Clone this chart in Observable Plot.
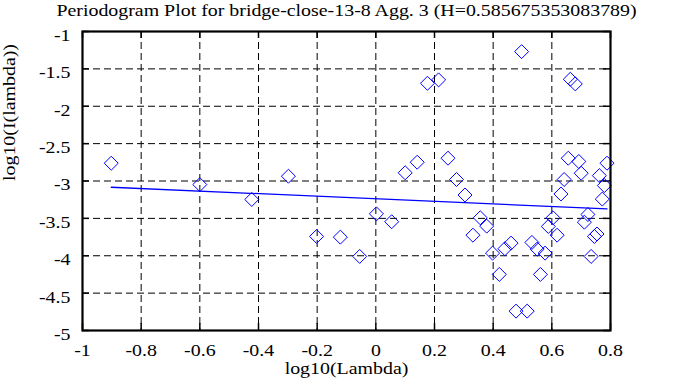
<!DOCTYPE html>
<html>
<head>
<meta charset="utf-8">
<script src="https://cdn.jsdelivr.net/npm/d3@7"></script>
<script src="https://cdn.jsdelivr.net/npm/@observablehq/plot@0.6"></script>
<style>
  html, body { margin: 0; padding: 0; background: #fff; }
  #chart svg text, #chart svg g { font-family: 'Liberation Serif', 'DejaVu Serif', serif !important; font-variant: normal !important; }
</style>
</head>
<body>
<div id="chart"></div>
<script>
const titleText = "Periodogram Plot for bridge-close-13-8 Agg. 3 (H=0.585675353083789)";
const xLabel = "log10(Lambda)";
const yLabel = "log10(I(lambda))";

const xTicks = [-1, -0.8, -0.6, -0.4, -0.2, 0, 0.2, 0.4, 0.6, 0.8];
const yTicks = [-5, -4.5, -4, -3.5, -3, -2.5, -2, -1.5, -1];

// log10(lambda) values
const logLambda = [
  -0.902, -0.600, -0.423, -0.298, -0.202, -0.121, -0.055, 0.002, 0.054, 0.100,
  0.141, 0.176, 0.214, 0.246, 0.275, 0.304, 0.331, 0.356, 0.378, 0.398,
  0.421, 0.440, 0.461, 0.478, 0.516, 0.497, 0.532, 0.550, 0.577, 0.561,
  0.604, 0.588, 0.618, 0.631, 0.642, 0.656, 0.663, 0.680, 0.692, 0.700,
  0.711, 0.723, 0.734, 0.745, 0.754, 0.762, 0.772, 0.779, 0.788
];
// log10(I(lambda)) values
const logI = [
  -2.762, -3.048, -3.247, -2.936, -3.742, -3.751, -4.009, -3.439, -3.545, -2.890,
  -2.749, -1.693, -1.647, -2.695, -2.980, -3.187, -3.725, -3.492, -3.604, -3.965,
  -4.250, -3.906, -3.831, -4.741, -4.741, -1.269, -3.822, -3.911, -3.965, -4.250,
  -3.492, -3.608, -3.725, -3.174, -2.980, -2.695, -1.639, -1.701, -2.739, -2.896,
  -3.551, -3.448, -4.009, -3.742, -3.709, -2.928, -3.242, -3.061, -2.762
];

// least-squares fit line: slope = 1 - 2H
const H = 0.585675353083789;
const fitSlope = 1 - 2 * H;
const fitIntercept = -3.238;

const points = logLambda.map((x, i) => ({x, y: logI[i]}));
const xMin = d3.min(logLambda), xMax = d3.max(logLambda);
const fitLine = [xMin, xMax].map(x => ({x, y: fitIntercept + fitSlope * x}));

const W = 688, Hgt = 387;
const mL = 82, mR = 78, mT = 31, mB = 57;
const plotW = W - mL - mR, plotH = Hgt - mT - mB;
const fmt = d => String(d);
const FONT = "'Liberation Serif', 'DejaVu Serif', serif";
const FS = 17;

const chart = Plot.plot({
  width: W,
  height: Hgt,
  marginLeft: mL,
  marginRight: mR,
  marginTop: mT,
  marginBottom: mB,
  style: {fontFamily: FONT, fontSize: FS + "px", background: "#fff", color: "#000"},
  x: {domain: [-1, 0.8]},
  y: {domain: [-5, -1]},
  marks: [
    // dashed grid
    Plot.ruleX(xTicks.slice(1, -1), {stroke: "#000", strokeWidth: 1, strokeDasharray: "7,4"}),
    Plot.ruleY(yTicks.slice(1, -1), {stroke: "#000", strokeWidth: 1, strokeDasharray: "7,4"}),
    // inward ticks on all four sides
    Plot.ruleX(xTicks, {stroke: "#000", strokeWidth: 1.5, insetTop: plotH - 7}),
    Plot.ruleX(xTicks, {stroke: "#000", strokeWidth: 1.5, insetBottom: plotH - 7}),
    Plot.ruleY(yTicks, {stroke: "#000", strokeWidth: 1.5, insetRight: plotW - 7}),
    Plot.ruleY(yTicks, {stroke: "#000", strokeWidth: 1.5, insetLeft: plotW - 7}),
    // tick labels
    Plot.axisX({ticks: xTicks, tickFormat: fmt, tickSize: 0, tickPadding: 13, label: null, fontSize: FS, fontFamily: FONT, fill: "#000"}),
    Plot.axisY({ticks: yTicks, tickFormat: fmt, tickSize: 0, tickPadding: 12, label: null, dy: 4, fontSize: FS, fontFamily: FONT, fill: "#000"}),
    // fit line
    Plot.line(fitLine, {x: "x", y: "y", stroke: "#0000ff", strokeWidth: 1.3}),
    // data
    Plot.dot(points, {x: "x", y: "y", symbol: "diamond2", r: 6.3, stroke: "#0000ff", strokeWidth: 1, fill: "none"}),
    // frame
    Plot.frame({stroke: "#000", strokeWidth: 2.2}),
    // title and axis labels
    Plot.text([titleText], {frameAnchor: "top", dy: -21, lineAnchor: "middle", fontSize: FS, fontFamily: FONT, fill: "#000"}),
    Plot.text([xLabel], {frameAnchor: "bottom", dy: 38, lineAnchor: "middle", fontSize: FS, fontFamily: FONT, fill: "#000"}),
    Plot.text([yLabel], {frameAnchor: "left", dx: -73, rotate: -90, lineAnchor: "middle", fontSize: FS, fontFamily: FONT, fill: "#000"})
  ]
});
document.getElementById("chart").appendChild(chart);

// the reference font is drawn horizontally stretched; widen glyphs a little
const STRETCH = 1.17;
chart.querySelectorAll("text").forEach(t => {
  const len = t.getComputedTextLength();
  if (len > 0) {
    t.setAttribute("textLength", (len * STRETCH).toFixed(1));
    t.setAttribute("lengthAdjust", "spacingAndGlyphs");
  }
});
</script>
</body>
</html>
